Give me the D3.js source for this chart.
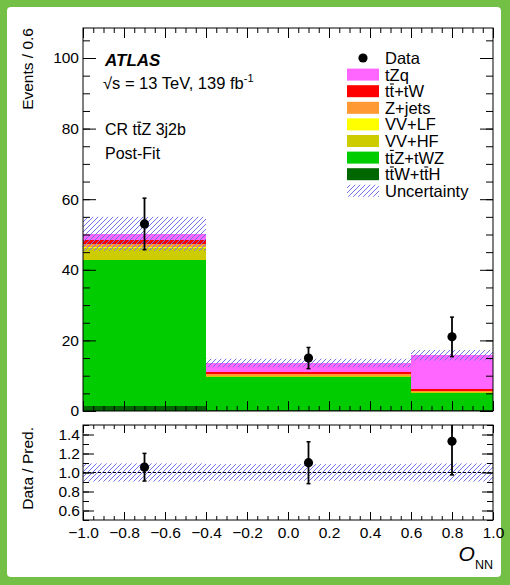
<!DOCTYPE html>
<html>
<head>
<meta charset="utf-8">
<script src="https://cdn.jsdelivr.net/npm/d3@7"></script>
<style>
  body { margin: 0; background: #fff; }
  svg { display: block; }
  text { font-family: "Liberation Sans", Arial, Helvetica, sans-serif; fill: #000; }
</style>
</head>
<body>
<svg id="chart" width="510" height="585"></svg>
<script>
// ---- binning of the O_NN distribution ----
const binEdges = [-1.0, -0.4, 0.6, 1.0];
const binCenters = [-0.7, 0.1, 0.8];

// ---- post-fit predictions per bin (Events / 0.6), stacked bottom to top ----
const ttWttH = [1.5, 0.4, 0.3];
const ttZtWZ = [41.3, 9.1, 4.7];
const vvHF   = [3.4, 0.3, 0.3];
const vvLF   = [0.3, 0.2, 0.1];
const zJets  = [0.9, 0.4, 0.3];
const ttTW   = [1.0, 0.6, 0.5];
const tZq    = [1.8, 2.6, 9.6];

// total prediction uncertainty per bin
const predUncertainty = [4.8, 1.2, 1.5];

// ---- observed data ----
const dataValues = [53, 15, 21];
const dataErrors = [7.3, 3.0, 5.6];

// ---- tick labels ----
const yTicksMain  = [0, 20, 40, 60, 80, 100];
const yTicksRatio = [0.6, 0.8, 1.0, 1.2, 1.4];
const xTicks      = [-1.0, -0.8, -0.6, -0.4, -0.2, 0.0, 0.2, 0.4, 0.6, 0.8, 1.0];

// process names (drawing order bottom -> top), colours and legend labels
const processKeys   = ["ttWttH", "ttZtWZ", "vvHF", "vvLF", "zJets", "ttTW", "tZq"];
const processSeries = [ttWttH, ttZtWZ, vvHF, vvLF, zJets, ttTW, tZq];
const processColors = ["#006600", "#00cc00", "#cccc00", "#ffff00", "#ff9933", "#ff0000", "#ff66ff"];
// legend entries top -> bottom; bar = indices of characters with an overbar
const legendEntries = [
  { label: "Data", kind: "data" },
  { label: "tZq", kind: "box", color: "#ff66ff", bar: [] },
  { label: "tt+tW", kind: "box", color: "#ff0000", bar: [1] },
  { label: "Z+jets", kind: "box", color: "#ff9933", bar: [] },
  { label: "VV+LF", kind: "box", color: "#ffff00", bar: [] },
  { label: "VV+HF", kind: "box", color: "#cccc00", bar: [] },
  { label: "ttZ+tWZ", kind: "box", color: "#00cc00", bar: [1] },
  { label: "ttW+ttH", kind: "box", color: "#006600", bar: [1, 5] },
  { label: "Uncertainty", kind: "hatch" }
];

const svg = d3.select("#chart");

// frame around the figure
svg.append("rect").attr("width", 510).attr("height", 585).attr("fill", "#74bf45");
svg.append("rect").attr("x", 7).attr("y", 7).attr("width", 494).attr("height", 570)
  .attr("rx", 4).attr("fill", "#fff");

// hatch pattern for the uncertainty band
const defs = svg.append("defs");
defs.append("pattern").attr("id", "hatch").attr("patternUnits", "userSpaceOnUse")
  .attr("width", 5).attr("height", 5)
  .append("path").attr("d", "M-1,1 l2,-2 M0,5 l5,-5 M4,6 l2,-2")
  .attr("stroke", "#7272ee").attr("stroke-width", 1);

const xL = 83, xR = 493;
const mainTop = 28, mainBot = 411;
const ratTop = 425, ratBot = 520;

const x  = d3.scaleLinear().domain([-1, 1]).range([xL, xR]);
const y  = d3.scaleLinear().domain([0, 108.5]).range([mainBot, mainTop]);
const yr = d3.scaleLinear().domain([0.5, 1.5]).range([ratBot, ratTop]);

defs.append("clipPath").attr("id", "clipRatio").append("rect")
  .attr("x", xL).attr("y", ratTop).attr("width", xR - xL).attr("height", ratBot - ratTop);
defs.append("clipPath").attr("id", "clipMain").append("rect")
  .attr("x", xL).attr("y", mainTop).attr("width", xR - xL).attr("height", mainBot - mainTop);

// ---- stacked histogram ----
const bins = binCenters.map((c, i) => {
  const o = { i: i, x0: binEdges[i], x1: binEdges[i + 1] };
  processKeys.forEach((k, j) => { o[k] = processSeries[j][i]; });
  return o;
});
const stacked = d3.stack().keys(processKeys)(bins);
const totals = bins.map((b, i) => processSeries.reduce((s, arr) => s + arr[i], 0));

const gMain = svg.append("g").attr("clip-path", "url(#clipMain)");
stacked.forEach((layer, j) => {
  gMain.selectAll(null).data(layer).enter().append("rect")
    .attr("x", d => x(d.data.x0))
    .attr("width", d => x(d.data.x1) - x(d.data.x0))
    .attr("y", d => y(d[1]))
    .attr("height", d => y(d[0]) - y(d[1]))
    .attr("fill", processColors[j])
    .attr("shape-rendering", "crispEdges");
});

// uncertainty band on the total
gMain.selectAll(null).data(bins).enter().append("rect")
  .attr("x", d => x(d.x0))
  .attr("width", d => x(d.x1) - x(d.x0))
  .attr("y", d => y(totals[d.i] + predUncertainty[d.i]))
  .attr("height", d => y(totals[d.i] - predUncertainty[d.i]) - y(totals[d.i] + predUncertainty[d.i]))
  .attr("fill", "url(#hatch)");

// ---- ratio panel ----
const gRat = svg.append("g").attr("clip-path", "url(#clipRatio)");
gRat.selectAll(null).data(bins).enter().append("rect")
  .attr("x", d => x(d.x0))
  .attr("width", d => x(d.x1) - x(d.x0))
  .attr("y", d => yr(1 + predUncertainty[d.i] / totals[d.i]))
  .attr("height", d => yr(1 - predUncertainty[d.i] / totals[d.i]) - yr(1 + predUncertainty[d.i] / totals[d.i]))
  .attr("fill", "url(#hatch)");
gRat.append("line").attr("x1", xL).attr("x2", xR).attr("y1", yr(1)).attr("y2", yr(1))
  .attr("stroke", "#000").attr("stroke-width", 1).attr("stroke-dasharray", "3,2");

// ---- data points with error bars ----
function drawPoints(g, yScale, vals, errs) {
  const pts = g.selectAll(null).data(binCenters.map((c, i) => ({ c, v: vals[i], e: errs[i] }))).enter().append("g");
  pts.append("line")
    .attr("x1", d => x(d.c)).attr("x2", d => x(d.c))
    .attr("y1", d => yScale(d.v + d.e)).attr("y2", d => yScale(d.v - d.e))
    .attr("stroke", "#000").attr("stroke-width", 1.8);
  [1, -1].forEach(s => {
    pts.append("line")
      .attr("x1", d => x(d.c) - 2).attr("x2", d => x(d.c) + 2)
      .attr("y1", d => yScale(d.v + s * d.e)).attr("y2", d => yScale(d.v + s * d.e))
      .attr("stroke", "#000").attr("stroke-width", 1.5);
  });
  pts.append("circle").attr("cx", d => x(d.c)).attr("cy", d => yScale(d.v)).attr("r", 4.6).attr("fill", "#000");
}
drawPoints(svg.append("g").attr("clip-path", "url(#clipMain)"), y, dataValues, dataErrors);
drawPoints(gRat.append("g"), yr,
  dataValues.map((v, i) => v / totals[i]),
  dataErrors.map((e, i) => e / totals[i]));

// ---- axes and frames ----
function tickAxis(gen, tx, ty) {
  const g = svg.append("g").attr("transform", `translate(${tx},${ty})`).call(gen);
  g.select(".domain").remove();
  g.selectAll("line").attr("stroke", "#000").attr("stroke-width", 1);
  g.selectAll("text").style("font-size", "15.5px").attr("fill", "#000");
  return g;
}
const xMinor = d3.range(41).map(i => -1 + i * 0.05);
const yMinorMain = d3.range(0, 108.5, 5);
const yMinorRatio = d3.range(0.5, 1.5001, 0.1).map(v => +v.toFixed(2));
const fmt1 = d3.format(".1f");

// main panel
tickAxis(d3.axisLeft(y).tickValues(yTicksMain).tickSize(-13).tickPadding(4).tickFormat(d3.format("d")), xL, 0);
tickAxis(d3.axisLeft(y).tickValues(yMinorMain).tickSize(-7).tickFormat(""), xL, 0);
tickAxis(d3.axisRight(y).tickValues(yTicksMain).tickSize(-13).tickFormat(""), xR, 0);
tickAxis(d3.axisRight(y).tickValues(yMinorMain).tickSize(-7).tickFormat(""), xR, 0);
tickAxis(d3.axisBottom(x).tickValues(xTicks).tickSize(-10).tickFormat(""), 0, mainBot);
tickAxis(d3.axisBottom(x).tickValues(xMinor).tickSize(-5).tickFormat(""), 0, mainBot);
tickAxis(d3.axisTop(x).tickValues(xTicks).tickSize(-10).tickFormat(""), 0, mainTop);
tickAxis(d3.axisTop(x).tickValues(xMinor).tickSize(-5).tickFormat(""), 0, mainTop);

// ratio panel
tickAxis(d3.axisLeft(yr).tickValues(yTicksRatio).tickSize(-11).tickPadding(3).tickFormat(fmt1), xL, 0);
tickAxis(d3.axisLeft(yr).tickValues(yMinorRatio).tickSize(-6).tickFormat(""), xL, 0);
tickAxis(d3.axisRight(yr).tickValues(yTicksRatio).tickSize(-11).tickFormat(""), xR, 0);
tickAxis(d3.axisRight(yr).tickValues(yMinorRatio).tickSize(-6).tickFormat(""), xR, 0);
tickAxis(d3.axisBottom(x).tickValues(xTicks).tickSize(-8).tickPadding(7).tickFormat(fmt1), 0, ratBot);
tickAxis(d3.axisBottom(x).tickValues(xMinor).tickSize(-4).tickFormat(""), 0, ratBot);
tickAxis(d3.axisTop(x).tickValues(xTicks).tickSize(-8).tickFormat(""), 0, ratTop);
tickAxis(d3.axisTop(x).tickValues(xMinor).tickSize(-4).tickFormat(""), 0, ratTop);

[[mainTop, mainBot], [ratTop, ratBot]].forEach(([t, b]) => {
  svg.append("rect").attr("x", xL).attr("y", t).attr("width", xR - xL).attr("height", b - t)
    .attr("fill", "none").attr("stroke", "#000").attr("stroke-width", 1);
});

// ---- axis titles ----
svg.append("text").attr("transform", `translate(33,${mainTop}) rotate(-90)`)
  .attr("text-anchor", "end").style("font-size", "15.5px").text("Events / 0.6");
svg.append("text").attr("transform", `translate(33,${ratTop + 2}) rotate(-90)`)
  .attr("text-anchor", "end").style("font-size", "15.5px").text("Data / Pred.");
const xt = svg.append("text").attr("x", xR).attr("y", 561).attr("text-anchor", "end");
xt.append("tspan").style("font-size", "21px").style("font-style", "italic").text("O");
xt.append("tspan").style("font-size", "12.5px").attr("dy", 8).text("NN");

// text with overbars above selected characters
function barText(g, str, bars, px, py, size) {
  const t = g.append("text").attr("x", px).attr("y", py).style("font-size", size + "px").text(str);
  const node = t.node();
  bars.forEach(i => {
    const a = node.getStartPositionOfChar(i).x, b = node.getEndPositionOfChar(i).x;
    g.append("line").attr("x1", a + 0.3).attr("x2", b - 0.3)
      .attr("y1", py - size * 0.8).attr("y2", py - size * 0.8)
      .attr("stroke", "#000").attr("stroke-width", 1.1);
  });
  return t;
}

// ---- labels ----
svg.append("text").attr("x", 105).attr("y", 66).style("font-size", "17px")
  .style("font-weight", "bold").style("font-style", "italic").text("ATLAS");
const en = svg.append("text").attr("x", 103).attr("y", 89).style("font-size", "16.5px");
en.append("tspan").text("√s = 13 TeV, 139 fb");
en.append("tspan").attr("dy", -7).style("font-size", "11px").text("-1");
barText(svg, "CR ttZ 3j2b", [4], 105, 135, 16);
svg.append("text").attr("x", 105).attr("y", 159).style("font-size", "16px").text("Post-Fit");

// ---- legend ----
const lg = svg.append("g");
legendEntries.forEach((e, i) => {
  const cy = 58 + i * 16.6;
  if (e.kind === "data") {
    lg.append("circle").attr("cx", 363).attr("cy", cy).attr("r", 4.6).attr("fill", "#000");
  } else if (e.kind === "box") {
    lg.append("rect").attr("x", 347).attr("y", cy - 6).attr("width", 32).attr("height", 12).attr("fill", e.color);
  } else {
    lg.append("rect").attr("x", 347).attr("y", cy - 6).attr("width", 32).attr("height", 12).attr("fill", "url(#hatch)");
  }
  barText(lg, e.label, e.bar || [], 385, cy + 6, 16.5);
});
</script>
</body>
</html>
